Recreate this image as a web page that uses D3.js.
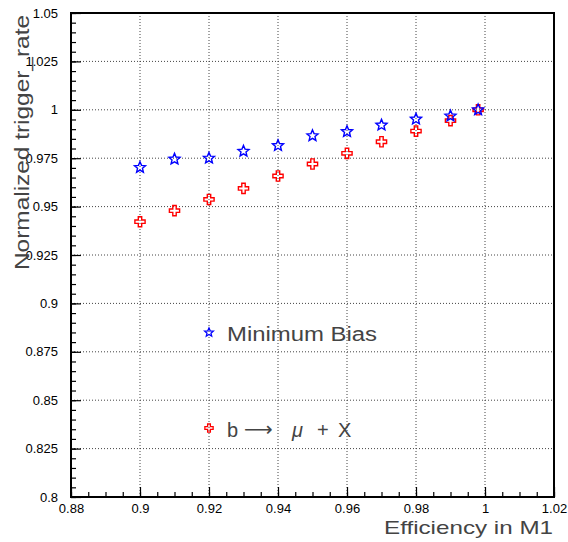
<!DOCTYPE html>
<html><head><meta charset="utf-8">
<script src="https://cdn.jsdelivr.net/npm/d3@7"></script>
<style>body{margin:0;background:#fff}svg{display:block}text{font-family:"Liberation Sans",Arial,sans-serif}</style>
</head><body>
<script>
const efficiency = [0.90,0.91,0.92,0.93,0.94,0.95,0.96,0.97,0.98,0.99,0.998];
const minBias    = [0.9702,0.9745,0.9750,0.9786,0.9815,0.9866,0.9887,0.9921,0.9952,0.9968,1.0];
const bMuX       = [0.9422,0.9479,0.9537,0.9594,0.9658,0.9720,0.9775,0.9835,0.9890,0.9944,1.0];
const xTicks = [0.88,0.9,0.92,0.94,0.96,0.98,1,1.02];
const yTicks = [0.8,0.825,0.85,0.875,0.9,0.925,0.95,0.975,1,1.025,1.05];
const xTickLabels = ["0.88","0.9","0.92","0.94","0.96","0.98","1","1.02"];
const yTickLabels = ["0.8","0.825","0.85","0.875","0.9","0.925","0.95","0.975","1","1.025","1.05"];
const seriesNames = ["Minimum Bias","b → μ + X"];

const W=568,H=542;
const m={l:71,r:14,t:13,b:45};
const svg=d3.select("body").append("svg").attr("width",W).attr("height",H);
const x=d3.scaleLinear().domain([0.88,1.02]).range([m.l,W-m.r]);
const y=d3.scaleLinear().domain([0.8,1.05]).range([H-m.b,m.t]);

// grid
const g=svg.append("g");
g.selectAll(".gx").data(xTicks.slice(1,-1)).join("line")
 .attr("x1",d=>x(d)).attr("x2",d=>x(d)).attr("y1",y(0.8)).attr("y2",y(1.05))
 .attr("stroke","#444").attr("stroke-width",1).attr("stroke-dasharray","1,2");
g.selectAll(".gy").data(yTicks.slice(1,-1)).join("line")
 .attr("y1",d=>y(d)).attr("y2",d=>y(d)).attr("x1",x(0.88)).attr("x2",x(1.02))
 .attr("stroke","#444").attr("stroke-width",1).attr("stroke-dasharray","1,2");

// axes with inward ticks
const minorX=d3.range(0,29).map(i=>0.88+i*0.005);
const minorY=d3.range(0,51).map(i=>0.8+i*0.005);
const xa=svg.append("g").attr("transform",`translate(0,${y(0.8)})`);
xa.call(d3.axisBottom(x).tickValues(minorX).tickSize(-5).tickFormat(""));
xa.append("g").call(d3.axisBottom(x).tickValues(xTicks).tickSize(-10).tickFormat((d,i)=>xTickLabels[i]).tickPadding(-1));
const ya=svg.append("g").attr("transform",`translate(${x(0.88)},0)`);
ya.call(d3.axisLeft(y).tickValues(minorY).tickSize(-5).tickFormat(""));
ya.append("g").call(d3.axisLeft(y).tickValues(yTicks).tickSize(-10).tickFormat((d,i)=>yTickLabels[i]).tickPadding(13));
svg.selectAll(".domain").remove();
svg.selectAll(".tick line").attr("stroke","#000").attr("stroke-width",1.2);
svg.selectAll(".tick text").attr("font-size",13).attr("fill","#000").style("font-family","Liberation Sans, Arial, sans-serif");
xa.selectAll(".tick text").attr("dy","1.3em");
// frame
svg.append("rect").attr("x",x(0.88)).attr("y",y(1.05)).attr("width",x(1.02)-x(0.88)).attr("height",y(0.8)-y(1.05))
 .attr("fill","none").attr("stroke","#000").attr("stroke-width",2);

// markers
function starPath(R){const r=R*0.45;const pts=[];for(let i=0;i<10;i++){const a=-Math.PI/2+i*Math.PI/5;const rr=i%2?r:R;pts.push([rr*Math.cos(a),rr*Math.sin(a)]);}return d3.line()(pts)+"Z";}
const crossPath=(s)=>d3.symbol(d3.symbolCross,s)();
const blue="#0000ff",red="#ff0000";
const pts=efficiency.map((e,i)=>({e,mb:minBias[i],bm:bMuX[i]}));
svg.append("g").selectAll("path").data(pts).join("path")
 .attr("d",crossPath(58)).attr("transform",d=>`translate(${x(d.e)},${y(d.bm)})`)
 .attr("fill","none").attr("stroke",red).attr("stroke-width",1.4);
svg.append("g").selectAll("path").data(pts).join("path")
 .attr("d",starPath(5.8)).attr("transform",d=>`translate(${x(d.e)},${y(d.mb)})`)
 .attr("fill","none").attr("stroke",blue).attr("stroke-width",1.4);

// legend
svg.append("path").attr("d",starPath(4.6)).attr("transform","translate(209,332.5)").attr("fill","none").attr("stroke",blue).attr("stroke-width",1.3);
svg.append("path").attr("d",crossPath(38)).attr("transform","translate(209,428)").attr("fill","none").attr("stroke",red).attr("stroke-width",1.3);
svg.append("text").attr("x",227).attr("y",341).attr("font-size",20).attr("fill","#444")
 .attr("textLength",150).attr("lengthAdjust","spacingAndGlyphs").text(seriesNames[0]);
const t2=svg.append("text").attr("y",437).attr("font-size",20).attr("fill","#444");
t2.append("tspan").attr("x",227).text("b");
t2.append("tspan").attr("x",244).attr("font-family","DejaVu Sans").attr("font-size",20).attr("dy",-1).text("⟶");
t2.append("tspan").attr("x",292).attr("dy",1).attr("font-style","italic").text("μ");
t2.append("tspan").attr("x",317).text("+");
t2.append("tspan").attr("x",338).text("X");

// axis titles
svg.append("text").attr("x",553).attr("y",534).attr("text-anchor","end").attr("font-size",19).attr("fill","#444")
 .attr("textLength",169).attr("lengthAdjust","spacingAndGlyphs").text("Efficiency in M1");
svg.append("text").attr("transform","translate(29,15) rotate(-90)").attr("text-anchor","end").attr("font-size",20).attr("fill","#444")
 .attr("textLength",255).attr("lengthAdjust","spacingAndGlyphs").text("Normalized trigger_rate");
</script>
</body></html>
